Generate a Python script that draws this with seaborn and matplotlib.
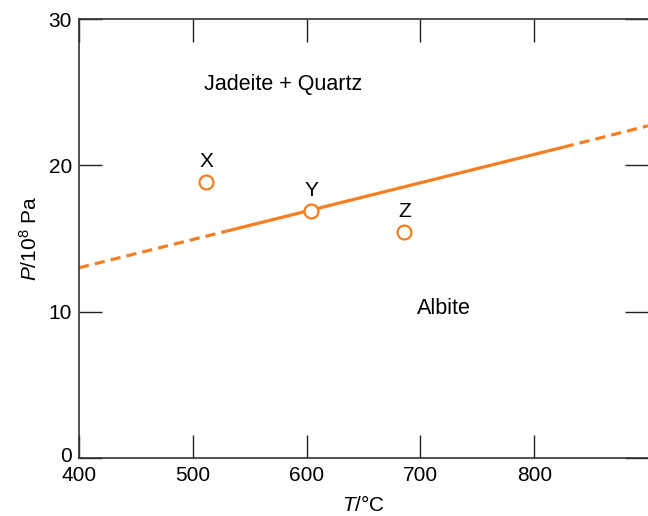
import matplotlib
matplotlib.use("Agg")
import matplotlib.pyplot as plt
import matplotlib.transforms as mtransforms
import seaborn as sns
import pandas as pd

# Data
line_T = [400, 529.5, 826, 900]
line_P = [13.0, 15.5, 21.25, 22.7]
line_style = ["dashed", "solid", "dashed"]  # per segment

pt_names = ["X", "Y", "Z"]
pt_T = [512, 604, 686]
pt_P = [18.85, 16.9, 15.45]

region_labels = ["Jadeite + Quartz", "Albite"]
region_T = [579, 721]
region_P = [25.55, 10.25]

xticks = [400, 500, 600, 700, 800]
yticks = [0, 10, 20, 30]

ORANGE = "#F47E20"

sns.set_theme(style="ticks")
plt.rcParams["font.family"] = ["Liberation Sans", "DejaVu Sans"]
plt.rcParams["mathtext.fontset"] = "custom"
plt.rcParams["mathtext.rm"] = "Liberation Sans"
plt.rcParams["mathtext.it"] = "Liberation Sans:italic"
plt.rcParams["text.color"] = "black"
plt.rcParams["axes.labelcolor"] = "black"
plt.rcParams["xtick.color"] = "black"
plt.rcParams["ytick.color"] = "black"

fig = plt.figure(figsize=(6.48, 5.16), dpi=100)
ax = fig.add_axes([79 / 648, 1 - 458 / 516, 1 - 79 / 648, (458 - 19) / 516])

# line segments
for i, ls in enumerate(line_style):
    seg = pd.DataFrame({"T": line_T[i:i + 2], "P": line_P[i:i + 2]})
    sns.lineplot(data=seg, x="T", y="P", ax=ax, color=ORANGE, lw=2.3,
                 zorder=2, legend=False)
    l = ax.lines[-1]
    if ls == "dashed":
        l.set_dashes([3.2, 1.9])
    l.set_solid_capstyle("butt")
    l.set_dash_capstyle("butt")

pts = pd.DataFrame({"T": pt_T, "P": pt_P, "name": pt_names})
ax.plot(pts["T"], pts["P"], linestyle="none", marker="o", markersize=10,
        markerfacecolor="white", markeredgecolor=ORANGE, markeredgewidth=1.6,
        zorder=3)
for n, t, p in zip(pt_names, pt_T, pt_P):
    ax.annotate(n, (t, p), xytext=(0, 8), textcoords="offset points",
                ha="center", va="bottom", fontsize=15, color="black")

for lab, t, p in zip(region_labels, region_T, region_P):
    ax.text(t, p, lab, ha="center", va="center", fontsize=15.5, color="black")

ax.set_xlim(400, 900)
ax.set_ylim(0, 30)
ax.set_xticks(xticks)
ax.set_yticks(yticks)
ax.tick_params(axis="both", direction="in", length=16.5, width=1.0,
               color="#222222", labelcolor="black", labelsize=15,
               top=True, right=True, pad=5)
ax.tick_params(axis="x", pad=6)
for s in ["left", "bottom", "top", "right"]:
    ax.spines[s].set_linewidth(1.2)
    ax.spines[s].set_color("#333333")
ax.spines["right"].set_visible(False)

# nudge the "0" label slightly upward as in the reference
ylabs = ax.get_yticklabels()
off = mtransforms.ScaledTranslation(0, 4 / 100, fig.dpi_scale_trans)
ylabs[0].set_transform(ylabs[0].get_transform() + off)

ax.set_xlabel(r"$\mathit{T}$/°C", fontsize=15, labelpad=7)
ax.set_ylabel(r"$\mathit{P}$/10$^8$ Pa", fontsize=15, labelpad=6)

fig.savefig("out.png", dpi=100)
